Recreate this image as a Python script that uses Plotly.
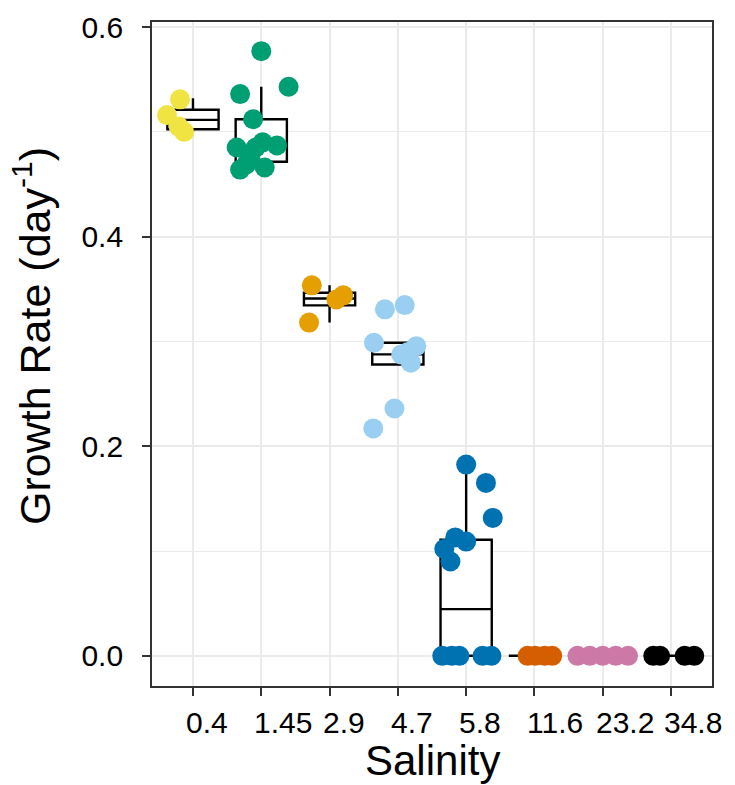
import plotly.graph_objects as go

# ---- data ----
salinity = ["0.4", "1.45", "2.9", "4.7", "5.8", "11.6", "23.2", "34.8"]
colors = ["#F0E442", "#009E73", "#E69F00", "#9BCFF2", "#0072B2", "#D55E00", "#CC79A7", "#000000"]

rate_04 = [0.531, 0.516, 0.505, 0.500]
jit_04 = [-0.19, -0.38, -0.21, -0.13]

rate_145 = [0.577, 0.543, 0.536, 0.512, 0.485, 0.490, 0.487, 0.464, 0.466, 0.476, 0.485, 0.469]
jit_145 = [0.0, 0.40, -0.31, -0.12, -0.36, 0.02, 0.23, -0.31, 0.05, -0.16, -0.08, -0.22]

rate_29 = [0.3535, 0.340, 0.344, 0.318]
jit_29 = [-0.26, 0.10, 0.20, -0.30]

rate_47 = [0.3306, 0.3347, 0.2987, 0.2955, 0.2876, 0.2796, 0.236, 0.217, 0.290]
jit_47 = [-0.19, 0.10, -0.35, 0.27, 0.05, 0.19, -0.05, -0.36, 0.15]

rate_58 = [0.1825, 0.165, 0.1316, 0.113, 0.109, 0.102, 0.090, 0.0, 0.0, 0.0, 0.0, 0.0]
jit_58 = [0.0, 0.29, 0.39, -0.16, 0.0, -0.32, -0.23, -0.35, -0.21, -0.10, 0.24, 0.37]

rate_116 = [0.0, 0.0, 0.0, 0.0]
jit_116 = [-0.10, 0.01, 0.15, 0.26]

rate_232 = [0.0, 0.0, 0.0, 0.0, 0.0]
jit_232 = [-0.37, -0.19, 0.0, 0.19, 0.37]

rate_348 = [0.0, 0.0, 0.0, 0.0]
jit_348 = [-0.26, -0.16, 0.20, 0.34]

# box statistics
box_q1 = [0.5025, 0.4715, 0.3344, 0.2780, 0.0, 0.0, 0.0, 0.0]
box_median = [0.5114, 0.4860, 0.3410, 0.2876, 0.0446, 0.0, 0.0, 0.0]
box_q3 = [0.5210, 0.5120, 0.3465, 0.2987, 0.1108, 0.0, 0.0, 0.0]
box_lower = [0.5000, 0.4640, 0.3180, 0.2775, 0.0, 0.0, 0.0, 0.0]
box_upper = [0.5320, 0.5430, 0.3535, 0.2987, 0.1825, 0.0, 0.0, 0.0]

y_ticks = [0.0, 0.2, 0.4, 0.6]

rates = [rate_04, rate_145, rate_29, rate_47, rate_58, rate_116, rate_232, rate_348]
jitters = [jit_04, jit_145, jit_29, jit_47, jit_58, jit_116, jit_232, jit_348]

positions = list(range(1, len(salinity) + 1))

fig = go.Figure()

for i, pos in enumerate(positions):
    fig.add_trace(go.Box(
        x=[pos], q1=[box_q1[i]], median=[box_median[i]], q3=[box_q3[i]],
        lowerfence=[box_lower[i]], upperfence=[box_upper[i]],
        width=0.75, whiskerwidth=0, fillcolor="white",
        line=dict(color="black", width=2.4), boxpoints=False,
        showlegend=False, hoverinfo="skip",
    ))

for i, pos in enumerate(positions):
    fig.add_trace(go.Scatter(
        x=[pos + j for j in jitters[i]], y=rates[i], mode="markers",
        marker=dict(color=colors[i], size=20, line=dict(width=0)),
        showlegend=False, name=salinity[i],
    ))

font_family = "Liberation Sans, Arial, Helvetica, sans-serif"

# x tick labels (left-aligned at the ticks, as in the reference)
annotations = []
for pos, lab in zip(positions, salinity):
    annotations.append(dict(
        x=pos, xref="x", y=0, yref="paper", text=lab, showarrow=False,
        xanchor="left", yanchor="top", xshift=-9, yshift=-18,
        font=dict(size=30, color="black", family=font_family),
    ))
# axis titles
annotations.append(dict(
    x=0.5, xref="paper", y=0, yref="paper", text="Salinity", showarrow=False,
    xanchor="center", yanchor="top", yshift=-49,
    font=dict(size=42, color="black", family=font_family),
))
annotations.append(dict(
    x=0, xref="paper", y=0.5, yref="paper", text="Growth Rate (day<sup>-1</sup>)",
    showarrow=False, textangle=-90, xanchor="center", yanchor="middle",
    xshift=-120, yshift=18,
    font=dict(size=43, color="black", family=font_family),
))

# the page body adds an 8 px offset, so the figure is 8 px smaller
fig.update_layout(
    width=727, height=777,
    margin=dict(l=144, r=23, t=14, b=99, autoexpand=False),
    plot_bgcolor="white", paper_bgcolor="white",
    font=dict(family=font_family, color="black"),
    annotations=annotations,
    xaxis=dict(
        range=[0.4, 8.6], tickmode="array", tickvals=positions, showticklabels=False,
        showgrid=True, gridcolor="#EBEBEB", gridwidth=1.5, zeroline=False,
        ticks="outside", ticklen=8, tickwidth=1.6, tickcolor="#333333",
        showline=True, mirror=True, linecolor="#333333", linewidth=1.8,
        automargin=False,
    ),
    yaxis=dict(
        range=[-0.0288, 0.6048], tickmode="array", tickvals=y_ticks,
        ticktext=[f"{v:.1f}" for v in y_ticks],
        showgrid=True, gridcolor="#EBEBEB", gridwidth=1.5, zeroline=False,
        minor=dict(tickmode="linear", tick0=0, dtick=0.1, showgrid=True,
                   gridcolor="#EBEBEB", gridwidth=0.8, ticks=""),
        ticks="outside", ticklen=8, tickwidth=1.6, tickcolor="#333333",
        showline=True, mirror=True, linecolor="#333333", linewidth=1.8,
        tickfont=dict(size=30, color="black", family=font_family),
        ticklabelstandoff=13, automargin=False,
    ),
)

fig.write_html("out.html")
